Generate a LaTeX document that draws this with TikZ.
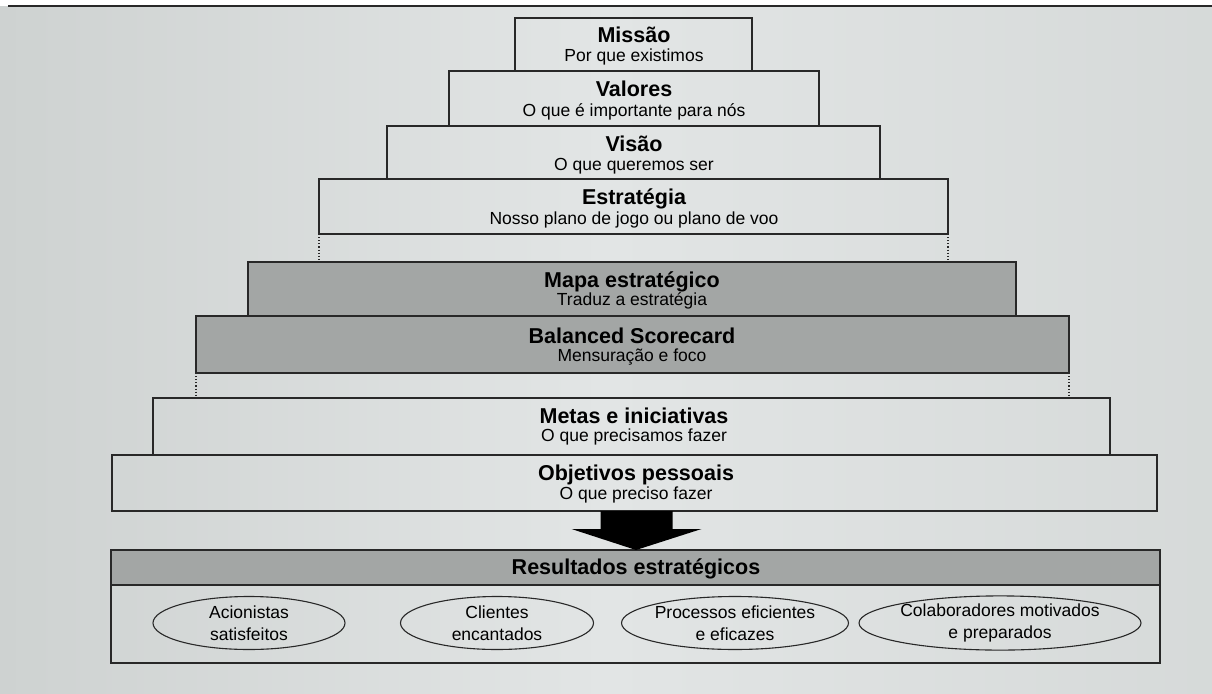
\documentclass[tikz,border=0pt]{standalone}
\usepackage{fontspec}
\setmainfont{Liberation Sans}
\usetikzlibrary{calc,shapes.geometric}
\definecolor{paperedge}{RGB}{206,210,209}
\definecolor{papermid}{RGB}{226,229,229}
\definecolor{shade}{RGB}{163,166,165}
\definecolor{ink}{RGB}{40,40,40}
\begin{document}
\begin{tikzpicture}[x=1pt,y=-1pt,
  tier/.style={draw=ink, line width=1.3pt, inner sep=0pt, outer sep=0pt, anchor=north west},
  darktier/.style={tier, fill=shade},
  ttl/.style={font=\fontsize{21.5}{24}\selectfont\bfseries, text=black, inner sep=0pt, anchor=base},
  sub/.style={font=\fontsize{17.5}{20}\selectfont, text=black, inner sep=0pt, anchor=base},
  goal/.style={ellipse, draw=ink, line width=1.1pt, font=\fontsize{17.5}{22}\selectfont, align=center, inner sep=0pt, minimum height=53pt},
  guide/.style={draw=ink, line width=1.1pt, dotted}
]
\useasboundingbox (0,0) rectangle (1212,693);
% page, lit a little brighter towards the middle
\shade[left color=paperedge, right color=paperedge!60!papermid, middle color=papermid] (0,0) rectangle (1212,693);
\fill[white] (0,0) rectangle (1212,6);
\draw[ink, line width=1.6pt] (8,6) -- (1212,6);

% pyramid tiers, top to bottom
\node[tier, minimum width=237pt, minimum height=53pt] (mis) at (515,18) {};
\node[tier, minimum width=370pt, minimum height=55pt] (val) at (449,71) {};
\node[tier, minimum width=493pt, minimum height=53pt] (vis) at (387,126) {};
\node[tier, minimum width=629pt, minimum height=55pt] (est) at (319,179) {};
\node[darktier, minimum width=768pt, minimum height=54pt] (map) at (248,262) {};
\node[darktier, minimum width=873pt, minimum height=57pt] (bsc) at (196,316) {};
\node[tier, minimum width=957pt, minimum height=57pt] (met) at (153,398) {};
\node[tier, minimum width=1045pt, minimum height=56pt] (obj) at (112,455) {};

% dotted guides between groups
\draw[guide] (est.south west) -- (est.south west |- map.north);
\draw[guide] (est.south east) -- (est.south east |- map.north);
\draw[guide] (bsc.south west) -- (bsc.south west |- met.north);
\draw[guide] (bsc.south east) -- (bsc.south east |- met.north);

% tier texts
\node[ttl] (misT) at (634,42.5) {Missão};
\node[sub] (misS) at (634,62) {Por que existimos};
\node[ttl] (valT) at (634,96) {Valores};
\node[sub] (valS) at (634,116) {O que é importante para nós};
\node[ttl] (visT) at (634,151) {Visão};
\node[sub] (visS) at (634,170) {O que queremos ser};
\node[ttl] (estT) at (634,204.5) {Estratégia};
\node[sub] (estS) at (634,224) {Nosso plano de jogo ou plano de voo};
\node[ttl] (mapT) at (632,287) {Mapa estratégico};
\node[sub] (mapS) at (632,305) {Traduz a estratégia};
\node[ttl] (bscT) at (632,343) {Balanced Scorecard};
\node[sub] (bscS) at (632,361) {Mensuração e foco};
\node[ttl] (metT) at (634,423) {Metas e iniciativas};
\node[sub] (metS) at (634,441) {O que precisamos fazer};
\node[ttl] (objT) at (636,480) {Objetivos pessoais};
\node[sub] (objS) at (636,499) {O que preciso fazer};

% results block
\node[darktier, minimum width=1049pt, minimum height=35pt] (resH) at (111,550) {};
\node[tier, minimum width=1049pt, minimum height=78pt] (resB) at (111,585) {};
\node[ttl] (resT) at (636,574) {Resultados estratégicos};

% block arrow from the personal goals to the results
\coordinate (tip) at ($(obj.south |- resH.north)+(1.5,0)$);
\fill[black] ($(obj.south)+(-34,0)$) -- ($(obj.south)+(38,0)$) -- ($(obj.south)+(38,18)$)
  -- ($(obj.south)+(67,18)$) -- (tip)
  -- ($(obj.south)+(-63,18)$) -- ($(obj.south)+(-34,18)$) -- cycle;

% outcomes
\node[goal, minimum width=192pt] (g1) at (249,623) {Acionistas\\satisfeitos};
\node[goal, minimum width=193pt] (g2) at (497,623) {Clientes\\encantados};
\node[goal, minimum width=173pt] (g3) at (735,623) {Processos eficientes\\e eficazes};
\node[goal, minimum width=233pt] (g4) at (1000,623) {Colaboradores motivados\\e preparados};
\end{tikzpicture}
\end{document}
